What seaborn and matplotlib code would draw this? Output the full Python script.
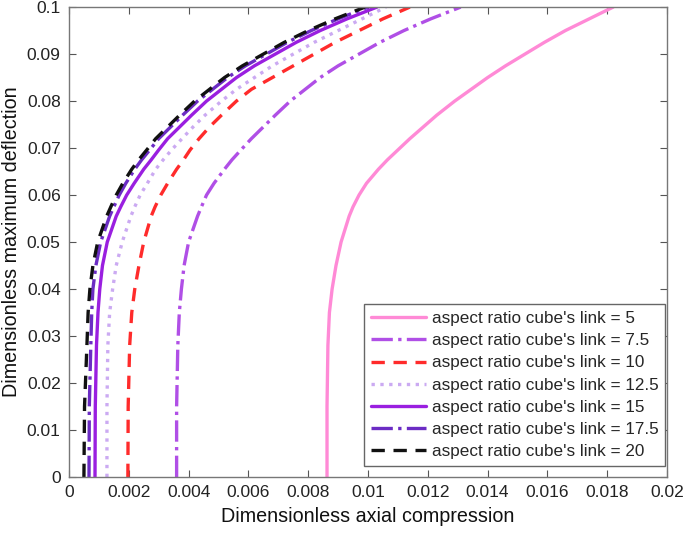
import matplotlib
matplotlib.use("Agg")
import matplotlib.pyplot as plt
import pandas as pd
import seaborn as sns

# values: deflection levels and the compression of each curve there
labels = ["5", "7.5", "10", "12.5", "15", "17.5", "20"]

deflection = [0, 0.015, 0.028, 0.035, 0.04, 0.045, 0.05, 0.0555, 0.0575, 0.06, 0.0625,
              0.0655, 0.0675, 0.0696, 0.072, 0.0745, 0.077, 0.08, 0.0825, 0.085,
              0.0875, 0.09, 0.0925, 0.095, 0.0975, 0.1]

x_5 = [0.00863, 0.00863, 0.00866, 0.00871, 0.0088, 0.00893, 0.0091, 0.00937, 0.0095,
       0.0097, 0.00995, 0.01035, 0.01065, 0.011, 0.0114, 0.01185, 0.0123, 0.0129,
       0.01345, 0.014, 0.0146, 0.01525, 0.0159, 0.0166, 0.0174, 0.0182]
x_7_5 = [0.0036, 0.0036, 0.00364, 0.00369, 0.00376, 0.00385, 0.004, 0.0043, 0.00443,
         0.0046, 0.00485, 0.0052, 0.00545, 0.00575, 0.0061, 0.0065, 0.0069, 0.0074,
         0.0079, 0.0084, 0.009, 0.0097, 0.0104, 0.0112, 0.0121, 0.0131]
x_10 = [0.00197, 0.00198, 0.00203, 0.0021, 0.0022, 0.00234, 0.0025, 0.00275, 0.00288,
        0.00307, 0.0033, 0.0036, 0.00383, 0.00405, 0.00435, 0.0047, 0.0051, 0.0056,
        0.0061, 0.0068, 0.0075, 0.0082, 0.0089, 0.0097, 0.0105, 0.0114]
x_12_5 = [0.00127, 0.00127, 0.0013, 0.00136, 0.00146, 0.00158, 0.00178, 0.00207, 0.0022,
          0.00238, 0.00262, 0.0029, 0.00315, 0.00343, 0.00378, 0.00415, 0.00455, 0.0051,
          0.0056, 0.0062, 0.0068, 0.0075, 0.0082, 0.009, 0.0098, 0.0106]
x_15 = [0.00087, 0.00088, 0.00092, 0.00097, 0.00103, 0.00112, 0.00128, 0.00158, 0.00173,
        0.00193, 0.00218, 0.0025, 0.00275, 0.003, 0.0033, 0.0037, 0.0041, 0.0046,
        0.0051, 0.0056, 0.0062, 0.0069, 0.0076, 0.0084, 0.0093, 0.0103]
x_17_5 = [0.00067, 0.00068, 0.00073, 0.00076, 0.0008, 0.0009, 0.00106, 0.00136, 0.0015,
          0.00168, 0.0019, 0.0022, 0.00243, 0.0027, 0.003, 0.0034, 0.0038, 0.0043,
          0.0048, 0.0053, 0.0059, 0.0066, 0.0073, 0.0081, 0.009, 0.01]
x_20 = [0.0005, 0.00052, 0.0006, 0.00064, 0.0007, 0.0008, 0.00096, 0.00126, 0.0014,
        0.00158, 0.0018, 0.0021, 0.00233, 0.0026, 0.0029, 0.0033, 0.0037, 0.0042,
        0.0047, 0.0052, 0.0058, 0.0065, 0.0072, 0.008, 0.0089, 0.0099]

series = [
    (x_5, "#ff8ad6", "-"),
    (x_7_5, "#b04fe6", "-."),
    (x_10, "#ff2b2b", (0, (4, 2.6))),
    (x_12_5, "#cbaaf2", ":"),
    (x_15, "#9a1fe0", "-"),
    (x_17_5, "#6b2cc4", "-."),
    (x_20, "#111111", (0, (4, 2.6))),
]

sns.set_style("white")
plt.rcParams["font.family"] = ["Liberation Sans", "DejaVu Sans"]

fig = plt.figure(figsize=(6.85, 5.34), dpi=100)
ax = fig.add_axes([0.1007, 0.1067, 0.873, 0.880])

for lab, (xs, col, ls) in zip(labels, series):
    df = pd.DataFrame({"x": xs, "y": deflection})
    sns.lineplot(
        data=df, x="x", y="y", sort=False, estimator=None, ax=ax,
        color=col, linestyle=ls, linewidth=2.4,
        label=f"aspect ratio cube's link = {lab}",
    )

ax.set_xlim(0, 0.02)
ax.set_ylim(0, 0.1)
ax.set_xticks([i * 0.002 for i in range(11)])
ax.set_xticklabels(["0", "0.002", "0.004", "0.006", "0.008", "0.01",
                    "0.012", "0.014", "0.016", "0.018", "0.02"])
ax.set_yticks([i * 0.01 for i in range(11)])
ax.set_yticklabels(["0", "0.01", "0.02", "0.03", "0.04", "0.05",
                    "0.06", "0.07", "0.08", "0.09", "0.1"])
ax.tick_params(direction="in", length=5, width=0.8, colors="#555555",
               labelcolor="#222222", labelsize=12.5, top=True, right=True,
               bottom=True, left=True, pad=6)
for s in ax.spines.values():
    s.set_color("#777777")
    s.set_linewidth(1.0)

ax.set_xlabel("Dimensionless axial compression", fontsize=14.2, color="#111111", labelpad=5)
ax.set_ylabel("Dimensionless maximum deflection", fontsize=14.2, color="#111111", labelpad=4)

leg = ax.legend(loc="lower right", bbox_to_anchor=(0.9967, 0.0234), fontsize=12.3,
                frameon=True, fancybox=False, framealpha=1, edgecolor="#666666",
                handlelength=3.2, handletextpad=0.35, borderaxespad=0,
                labelspacing=0.42, borderpad=0.4)
leg.get_frame().set_linewidth(1.0)

fig.savefig("out.png", dpi=100)
